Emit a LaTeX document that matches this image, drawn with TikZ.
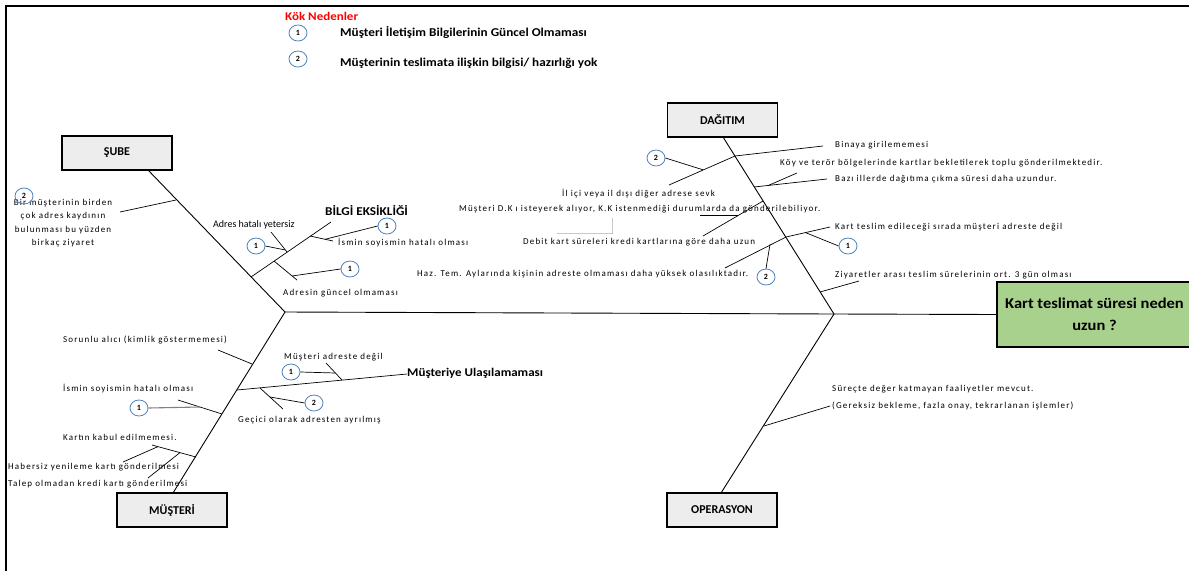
\documentclass[tikz,border=0pt]{standalone}
\usepackage{fontspec}
\setmainfont{Carlito}
\newfontfamily\spc[LetterSpace=13]{Carlito}
\newfontfamily\wide[FakeStretch=1.1]{Carlito}
\usetikzlibrary{shapes.geometric}
\definecolor{cblue}{HTML}{4F81BD}
\definecolor{boxgray}{HTML}{EDEDED}
\definecolor{kgreen}{HTML}{A9D18E}
\definecolor{lgray}{HTML}{C8C8C8}
\tikzset{
  num/.style={ellipse, draw=cblue, line width=0.8pt, minimum width=18pt, minimum height=16pt, inner sep=0pt, font=\bfseries\fontsize{8}{8}\selectfont},
  catbox/.style={draw, line width=1.6pt, fill=boxgray, minimum width=110pt, minimum height=34pt, inner sep=0pt, font=\bfseries\fontsize{12}{12}\selectfont},
  sm/.style={anchor=west, inner sep=0pt, font=\spc\fontsize{9}{11}\selectfont},
  hd/.style={anchor=west, inner sep=0pt, font=\wide\bfseries\fontsize{12}{12}\selectfont},
  bone/.style={line width=0.9pt},
  twig/.style={line width=0.7pt}
}
\begin{document}
\begin{tikzpicture}[x=1pt,y=-1pt]
\useasboundingbox (0,0) rectangle (1189,571);
\draw[line width=1.2pt] (6,571) -- (6,6) -- (1189,6);

% legend
\node[anchor=west, inner sep=0pt, text=red, font=\wide\bfseries\fontsize{11.8}{12}\selectfont] (kok) at (285,16) {Kök Nedenler};
\node[num] (l1) at (298,33) {1};
\node[hd] (l1t) at (340,32) {Müşteri İletişim Bilgilerinin Güncel Olmaması};
\node[num] (l2) at (298,59) {2};
\node[hd] (l2t) at (340,63) {Müşterinin teslimata ilişkin bilgisi/ hazırlığı yok};

% boxes
\node[catbox] (sube) at (117,153) {ŞUBE};
\node[catbox] (dag) at (722.5,120) {DAĞITIM};
\node[catbox] (mus) at (172,510) {MÜŞTERİ};
\node[catbox] (ops) at (722,510) {OPERASYON};
\node[draw, line width=1.6pt, fill=kgreen, minimum width=195pt, minimum height=65pt, inner sep=0pt, align=center, font=\wide\bfseries\fontsize{15}{22}\selectfont] (head) at (1094.5,314.5) {Kart teslimat süresi neden\\uzun ?};

% spine and bones
\coordinate (vL) at (285,312);
\coordinate (vR) at (834,314);
\coordinate (sb) at (148,170);
\coordinate (db) at (723,137);
\coordinate (mb) at (173,493);
\coordinate (ob) at (721,493);
\draw[bone] (vL) -- (vR) -- (head.west);
\draw[bone] (sb) -- (vL) -- (mb);
\draw[bone] (db) -- (vR) -- (ob);

% ---- SUBE ----
\coordinate (s1) at (176,200);
\coordinate (s1e) at (120,212);
\draw[twig] (s1e) -- (s1);
\node[align=center, inner sep=0pt, font=\spc\fontsize{9}{13.4}\selectfont] (birm) at (63,223) {Bir müşterinin birden\\çok adres kaydının\\bulunması bu yüzden\\birkaç ziyaret};
\node[num] (c_s2) at (24,196) {2};

\coordinate (bg0) at (251,277);
\coordinate (bg1) at (331,222);
\draw[twig] (bg0) -- (bg1);
\node[anchor=west, inner sep=0pt, font=\wide\bfseries\fontsize{12}{12}\selectfont] (bilgi) at (325,211) {BİLGİ EKSİKLİĞİ};

\coordinate (is0) at (310,236);
\coordinate (is1) at (333,241);
\draw[twig] (is0) -- (is1);
\node[sm] (ismin1) at (338,243) {İsmin soyismin hatalı olması};
\node[num] (c_is) at (387,226) {1};
\coordinate (isj) at (325,239.3);
\draw[twig] (isj) -- (c_is.west);

\node[anchor=west, inner sep=0pt, font=\fontsize{10}{12}\selectfont] (adrh) at (213,225) {Adres hatalı yetersiz};
\coordinate (ah0) at (271,232);
\coordinate (ah1) at (287,252);
\draw[twig] (ah0) -- (ah1);
\node[num] (c_ah) at (256,246) {1};
\coordinate (ahj) at (285.4,250);
\draw[twig] (c_ah.east) -- (ahj);

\coordinate (ag0) at (274,261);
\coordinate (ag1) at (297,280);
\draw[twig] (ag0) -- (ag1);
\coordinate (agj) at (292,276);
\node[num] (c_ag) at (350,269) {1};
\draw[twig] (agj) -- (c_ag.west);
\node[sm] (adrg) at (283,293) {Adresin güncel olmaması};

% ---- DAGITIM ----
\coordinate (d1) at (735,156);
\coordinate (d1e) at (823,146);
\draw[twig] (d1) -- (d1e);
\node[sm] (binaya) at (835,145) {Binaya girilememesi};

\coordinate (il0) at (669,185);
\draw[twig] (il0) -- (d1);
\node[num] (c_il) at (656,158) {2};
\coordinate (ilj) at (703,169.8);
\draw[twig] (c_il.east) -- (ilj);
\node[sm] (ilici) at (562,194) {İl içi veya il dışı diğer adrese sevk};

\coordinate (d2) at (754,187);
\coordinate (d2e) at (827,179);
\draw[twig] (d2) -- (d2e);
\node[sm] (bazi) at (835,179) {Bazı illerde dağıtıma çıkma süresi daha uzundur.};
\coordinate (ky0) at (768,185.6);
\coordinate (ky1) at (797,173);
\draw[twig] (ky0) -- (ky1);
\node[sm] (koy) at (780,163) {Köy ve terör bölgelerinde kartlar bekletilerek toplu gönderilmektedir.};

\coordinate (d3) at (763,201);
\coordinate (db0) at (703,236);
\draw[twig] (db0) -- (d3);
\coordinate (dk0) at (700,215);
\coordinate (dk1) at (738.4,215);
\draw[twig] (dk0) -- (dk1);
\node[sm] (dk) at (459,209) {Müşteri D.K ı isteyerek alıyor, K.K istenmediği durumlarda da gönderilebiliyor.};
\node[sm] (debit) at (523,242) {Debit kart süreleri kredi kartlarına göre daha uzun};
\coordinate (gb0) at (557,233);
\coordinate (gb1) at (612,233);
\coordinate (gb2) at (612,218);
\draw[lgray, line width=0.6pt] (gb0) -- (gb1) -- (gb2);

\coordinate (d4) at (786,237);
\coordinate (kt0) at (725,268);
\coordinate (kt1) at (830,227);
\draw[twig] (kt0) -- (d4) -- (kt1);
\node[sm] (kart) at (835,227) {Kart teslim edileceği sırada müşteri adreste değil};
\coordinate (ktj) at (805,232.4);
\node[num] (c_kt) at (848,246) {1};
\draw[twig] (ktj) -- (c_kt.west);
\node[num] (c_hz) at (766,277) {2};
\coordinate (hzj) at (770,244.4);
\draw[twig] (c_hz.north) -- (hzj);
\node[sm] (haz) at (417,274) {Haz. Tem. Aylarında kişinin adreste olmaması daha yüksek olasılıktadır.};

\coordinate (d5) at (820,292);
\coordinate (d5e) at (859,281);
\draw[twig] (d5) -- (d5e);
\node[sm] (ziy) at (835,275) {Ziyaretler arası teslim sürelerinin ort. 3 gün olması};

% ---- OPERASYON ----
\coordinate (o1) at (764,426);
\coordinate (o1e) at (830,406);
\draw[twig] (o1) -- (o1e);
\node[sm] (surec) at (832,389) {Süreçte değer katmayan faaliyetler mevcut.};
\node[sm] (gerek) at (832,406) {(Gereksiz bekleme, fazla onay, tekrarlanan işlemler)};

% ---- MUSTERI ----
\coordinate (m1) at (252,364);
\coordinate (m1e) at (218,350);
\draw[twig] (m1e) -- (m1);
\node[sm] (sor) at (63,340) {Sorunlu alıcı (kimlik göstermemesi)};

\coordinate (m2) at (237,390);
\coordinate (mu1) at (407,374);
\draw[twig] (m2) -- (mu1);
\node[anchor=west, inner sep=0pt, font=\wide\bfseries\fontsize{11.8}{12}\selectfont] (mula) at (407,373) {Müşteriye Ulaşılamaması};
\coordinate (ma0) at (326,363);
\coordinate (ma1) at (342,380);
\draw[twig] (ma0) -- (ma1);
\node[num] (c_ma) at (291,372) {1};
\coordinate (maj) at (335.4,373);
\draw[twig] (c_ma.east) -- (maj);
\node[sm] (madr) at (284,357) {Müşteri adreste değil};
\coordinate (ge0) at (260,388);
\coordinate (ge1) at (283,409);
\draw[twig] (ge0) -- (ge1);
\coordinate (gej) at (270,397);
\node[num] (c_ge) at (314,403) {2};
\draw[twig] (gej) -- (c_ge.west);
\node[sm] (gec) at (238,420) {Geçici olarak adresten ayrılmış};

\coordinate (m3) at (222,414);
\coordinate (m3e) at (178,400);
\draw[twig] (m3e) -- (m3);
\node[sm] (ismin2) at (63,389) {İsmin soyismin hatalı olması};
\node[num] (c_m3) at (139,408) {1};
\coordinate (m3j) at (200,407);
\draw[gray, line width=1.1pt] (c_m3.east) -- (m3j);

\coordinate (m4) at (196,457);
\coordinate (m4e) at (152,445);
\draw[twig] (m4e) -- (m4);
\node[sm] (kabul) at (63,437) {Kartın kabul edilmemesi.};
\coordinate (hb0) at (123,462);
\coordinate (hb1) at (158,446.6);
\draw[twig] (hb0) -- (hb1);
\node[sm] (haber) at (8,467) {Habersiz yenileme kartı gönderilmesi};
\coordinate (tl0) at (148,478);
\coordinate (tl1) at (180,452.6);
\draw[twig] (tl0) -- (tl1);
\node[sm] (talep) at (8,484) {Talep olmadan kredi kartı gönderilmesi};
\end{tikzpicture}
\end{document}
